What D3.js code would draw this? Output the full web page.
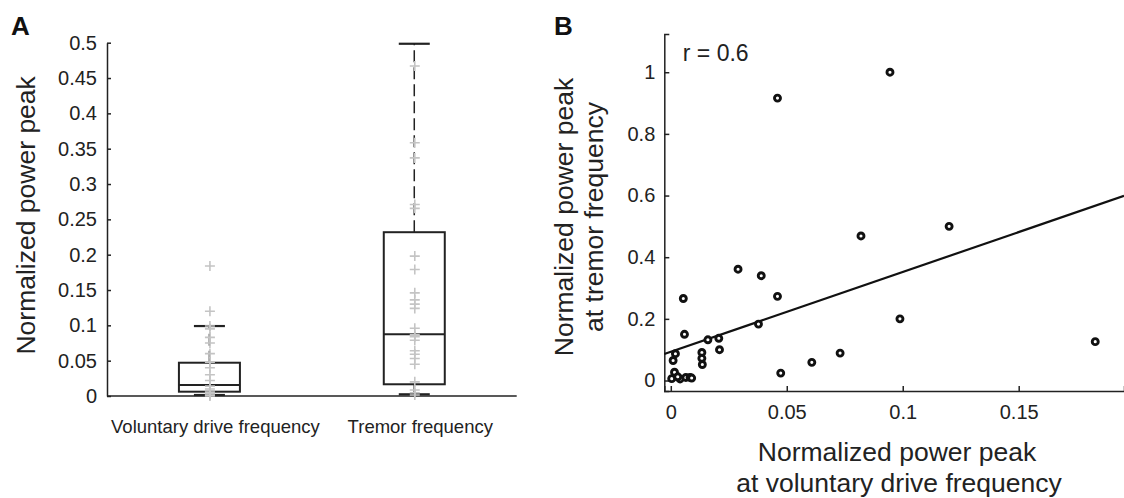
<!DOCTYPE html>
<html>
<head>
<meta charset="utf-8">
<script src="https://cdn.jsdelivr.net/npm/d3@7"></script>
<style>
  body { margin: 0; background: #fff; }
  svg { display: block; font-family: "Liberation Sans", Arial, sans-serif; }
</style>
</head>
<body>
<div class="chart"></div>
<script>
var svgWidth = 1124;
var svgHeight = 498;

// Panel A: box plot data
var categories = ["Voluntary drive frequency", "Tremor frequency"];
var boxQ1 = [0.0061, 0.0166];
var boxMedian = [0.0156, 0.0874];
var boxQ3 = [0.0471, 0.2318];
var whiskerLow = [0.0014, 0.0024];
var whiskerHigh = [0.099, 0.4985];
var voluntaryPoints = [0.184, 0.120, 0.099, 0.095, 0.083, 0.075, 0.060, 0.048, 0.040,
  0.030, 0.022, 0.014, 0.010, 0.007, 0.005, 0.003, 0.001, 0.0];
var tremorPoints = [0.467, 0.3585, 0.337, 0.271, 0.2656, 0.198, 0.179, 0.146, 0.136,
  0.130, 0.124, 0.0958, 0.087, 0.084, 0.079, 0.064, 0.059, 0.053, 0.045, 0.020,
  0.0085, 0.0047, 0.0014];
var yTicksA = [0, 0.05, 0.1, 0.15, 0.2, 0.25, 0.3, 0.35, 0.4, 0.45, 0.5];

// Panel B: scatter data
var scatterX = [0.0945, 0.046, 0.12, 0.082, 0.029, 0.039, 0.046, 0.0054, 0.0988, 0.0378,
  0.0059, 0.016, 0.0207, 0.021, 0.0134, 0.002, 0.073, 0.0134, 0.001, 0.0136,
  0.0608, 0.0474, 0.0016, 0.183, 0.0004, 0.004, 0.0065, 0.0083, 0.009, 0.003];
var scatterY = [1.0, 0.916, 0.50, 0.469, 0.361, 0.340, 0.273, 0.266, 0.200, 0.183,
  0.150, 0.132, 0.137, 0.100, 0.091, 0.087, 0.089, 0.072, 0.065, 0.052,
  0.059, 0.024, 0.027, 0.126, 0.006, 0.005, 0.010, 0.010, 0.008, 0.012];
var fitIntercept = 0.093;
var fitSlope = 2.59;
var rLabel = "r = 0.6";
var xTicksB = [0, 0.05, 0.1, 0.15];
var yTicksB = [0, 0.2, 0.4, 0.6, 0.8, 1];

var ink = "#222";
var fmt = d3.format("~g");

var svg = d3.select(".chart")
  .append("svg")
  .attr("width", svgWidth)
  .attr("height", svgHeight);

// ---------- Panel A ----------
var xA = d3.scalePoint().domain(categories).range([107, 516.7]).padding(0.5);
var yA = d3.scaleLinear().domain([0, 0.5]).range([396, 42.7]);
var boxHalf = 30.5;
var capHalf = 15.5;

var gA = svg.append("g");

var yAxisA = gA.append("g")
  .attr("transform", "translate(107,0)")
  .call(d3.axisLeft(yA).tickValues(yTicksA).tickFormat(fmt).tickSize(-4).tickSizeOuter(0).tickPadding(10));
yAxisA.attr("font-size", 20).attr("font-family", null).attr("color", ink);
yAxisA.selectAll("path, line").attr("stroke-width", 1.5);

// x axis line (no ticks)
gA.append("line")
  .attr("x1", xA.range()[0]).attr("x2", xA.range()[1])
  .attr("y1", yA(0)).attr("y2", yA(0))
  .attr("stroke", ink).attr("stroke-width", 1.5);

gA.selectAll(".cat-label")
  .data(categories)
  .enter()
  .append("text")
  .attr("class", "cat-label")
  .attr("x", d => xA(d) + 6)
  .attr("y", 433)
  .attr("text-anchor", "middle")
  .attr("font-size", 18.5)
  .attr("fill", ink)
  .text(d => d);

var boxes = gA.selectAll(".box")
  .data(categories)
  .enter()
  .append("g")
  .attr("class", "box");

// whiskers (dashed)
boxes.append("line")
  .attr("x1", d => xA(d)).attr("x2", d => xA(d))
  .attr("y1", (d, i) => yA(boxQ3[i])).attr("y2", (d, i) => yA(whiskerHigh[i]))
  .attr("stroke", ink).attr("stroke-width", 1.5).attr("stroke-dasharray", "12,5");
boxes.append("line")
  .attr("x1", d => xA(d)).attr("x2", d => xA(d))
  .attr("y1", (d, i) => yA(boxQ1[i])).attr("y2", (d, i) => yA(whiskerLow[i]))
  .attr("stroke", ink).attr("stroke-width", 1.5).attr("stroke-dasharray", "12,5");

// caps
boxes.append("line")
  .attr("x1", d => xA(d) - capHalf).attr("x2", d => xA(d) + capHalf)
  .attr("y1", (d, i) => yA(whiskerHigh[i])).attr("y2", (d, i) => yA(whiskerHigh[i]))
  .attr("stroke", ink).attr("stroke-width", 2.2);
boxes.append("line")
  .attr("x1", d => xA(d) - capHalf).attr("x2", d => xA(d) + capHalf)
  .attr("y1", (d, i) => yA(whiskerLow[i])).attr("y2", (d, i) => yA(whiskerLow[i]))
  .attr("stroke", ink).attr("stroke-width", 2.2);

// box and median
boxes.append("rect")
  .attr("x", d => xA(d) - boxHalf)
  .attr("width", boxHalf * 2)
  .attr("y", (d, i) => yA(boxQ3[i]))
  .attr("height", (d, i) => yA(boxQ1[i]) - yA(boxQ3[i]))
  .attr("fill", "none").attr("stroke", ink).attr("stroke-width", 2);
boxes.append("line")
  .attr("x1", d => xA(d) - boxHalf).attr("x2", d => xA(d) + boxHalf)
  .attr("y1", (d, i) => yA(boxMedian[i])).attr("y2", (d, i) => yA(boxMedian[i]))
  .attr("stroke", ink).attr("stroke-width", 2);

// gray data points as plus markers
var plusPath = "M-5,0H5M0,-5V5";
[voluntaryPoints, tremorPoints].forEach(function(points, i) {
  gA.append("g").selectAll("path")
    .data(points)
    .enter()
    .append("path")
    .attr("d", plusPath)
    .attr("transform", d => `translate(${xA(categories[i]) + 0.5},${yA(d)})`)
    .attr("stroke", "#c4c4c4")
    .attr("stroke-width", 1.6)
    .attr("fill", "none");
});

// y label A
gA.append("text")
  .attr("transform", `translate(35,${(yA(0) + yA(0.5)) / 2 - 4}) rotate(-90)`)
  .attr("text-anchor", "middle")
  .attr("font-size", 26.5)
  .attr("fill", ink)
  .text("Normalized power peak");

svg.append("text")
  .attr("x", 11).attr("y", 35)
  .attr("font-size", 26).attr("font-weight", "bold").attr("fill", "#111")
  .text("A");

// ---------- Panel B ----------
var xB = d3.scaleLinear().domain([-0.0028, 0.1954]).range([664.3, 1124]);
var yB = d3.scaleLinear().domain([-0.034, 1.124]).range([391, 34]);

var gB = svg.append("g");

var xAxisB = gB.append("g")
  .attr("transform", `translate(0,${yB.range()[0]})`)
  .call(d3.axisBottom(xB).tickValues(xTicksB).tickFormat(fmt).tickSize(-5).tickSizeOuter(-5).tickPadding(14));
xAxisB.attr("font-size", 20).attr("font-family", null).attr("color", ink);
xAxisB.selectAll("path, line").attr("stroke-width", 1.5);

var yAxisB = gB.append("g")
  .attr("transform", `translate(${xB.range()[0]},0)`)
  .call(d3.axisLeft(yB).tickValues(yTicksB).tickFormat(fmt).tickSize(-5).tickSizeOuter(-5).tickPadding(9));
yAxisB.attr("font-size", 20).attr("font-family", null).attr("color", ink);
yAxisB.selectAll("path, line").attr("stroke-width", 1.5);

// fit line
var fitX = xB.domain();
gB.append("line")
  .attr("x1", xB(fitX[0])).attr("y1", yB(fitIntercept + fitSlope * fitX[0]))
  .attr("x2", xB(fitX[1])).attr("y2", yB(fitIntercept + fitSlope * fitX[1]))
  .attr("stroke", "#111").attr("stroke-width", 2.2);

gB.append("g").selectAll("circle")
  .data(scatterX)
  .enter()
  .append("circle")
  .attr("cx", d => xB(d))
  .attr("cy", (d, i) => yB(scatterY[i]))
  .attr("r", 3)
  .attr("fill", "#fff")
  .attr("stroke", "#111")
  .attr("stroke-width", 2.9);

gB.append("text")
  .attr("x", xB(0) + 12).attr("y", 61)
  .attr("font-size", 23).attr("fill", ink)
  .text(rLabel);

var yLabelB = gB.append("text")
  .attr("transform", `translate(573,217) rotate(-90)`)
  .attr("text-anchor", "middle")
  .attr("font-size", 26.5)
  .attr("fill", ink);
yLabelB.append("tspan").attr("x", 0).attr("dy", 0).text("Normalized power peak");
yLabelB.append("tspan").attr("x", 0).attr("dy", 30).text("at tremor frequency");

var xLabelB = gB.append("text")
  .attr("transform", `translate(897,461)`)
  .attr("text-anchor", "middle")
  .attr("font-size", 26.5)
  .attr("fill", ink);
xLabelB.append("tspan").attr("x", 0).attr("dy", 0).text("Normalized power peak");
xLabelB.append("tspan").attr("x", 2).attr("dy", 31).text("at voluntary drive frequency");

svg.append("text")
  .attr("x", 554).attr("y", 35)
  .attr("font-size", 26).attr("font-weight", "bold").attr("fill", "#111")
  .text("B");
</script>
</body>
</html>
